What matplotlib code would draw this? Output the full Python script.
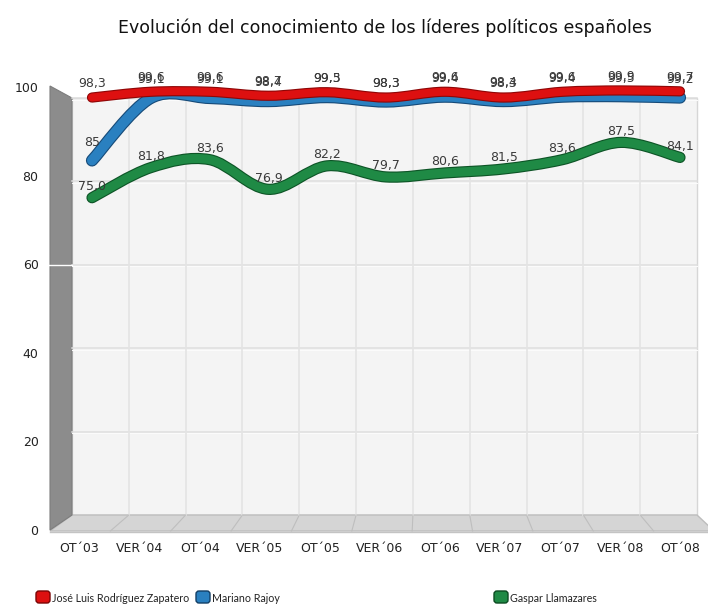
import matplotlib
matplotlib.use("Agg")
import matplotlib.pyplot as plt
import matplotlib.patheffects as pe
from matplotlib.path import Path
from matplotlib.patches import PathPatch, Polygon, FancyBboxPatch
from matplotlib import transforms
import numpy as np

plt.rcParams['font.family'] = ['DejaVu Sans']

periods = ["OT´03", "VER´04", "OT´04", "VER´05", "OT´05", "VER´06",
           "OT´06", "VER´07", "OT´07", "VER´08", "OT´08"]
zapatero = [98.3, 99.6, 99.6, 98.7, 99.5, 98.3, 99.6, 98.3, 99.6, 99.9, 99.7]
rajoy = [85, 99.1, 99.1, 98.4, 99.3, 98.3, 99.4, 98.4, 99.4, 99.5, 99.2]
llamazares = [75.0, 81.8, 83.6, 76.9, 82.2, 79.7, 80.6, 81.5, 83.6, 87.5, 84.1]
names = ["José Luis Rodríguez Zapatero", "Mariano Rajoy", "Gaspar Llamazares"]
yticks = [0, 20, 40, 60, 80, 100]

W, H = 708, 610
fig = plt.figure(figsize=(W / 100, H / 100), dpi=100)


def px(x0, y0, w, h):
    # figure-fraction box from pixel box (top-left origin)
    return [x0 / W, 1 - (y0 + h) / H, w / W, h / H]


# background: 3d box drawn in pixel space
bg = fig.add_axes([0, 0, 1, 1])
bg.set_xlim(0, W)
bg.set_ylim(H, 0)
bg.axis("off")

wall_l, wall_r, wall_t, wall_b = 72, 697, 98, 515
bg.add_patch(Polygon([(wall_l, wall_t), (wall_r, wall_t), (wall_r, wall_b), (wall_l, wall_b)],
                     closed=True, fc="#f4f4f4", ec="#d6d6d6", lw=1))
for v in yticks[1:]:
    yy = wall_b - v * (wall_b - wall_t) / 100
    bg.plot([wall_l, wall_r], [yy, yy], color="#dedede", lw=1.1)
    bg.plot([wall_l, wall_r], [yy + 1.5, yy + 1.5], color="#fbfbfb", lw=0.8)
ncat = len(periods)
step = (wall_r - wall_l) / ncat
for k in range(1, ncat):
    xx = wall_l + k * step
    bg.plot([xx, xx], [wall_t, wall_b], color="#e4e4e4", lw=1.2)

# floor
fl_front_l, fl_front_r, fl_front_y = 50, 714, 531
bg.add_patch(Polygon([(fl_front_l, fl_front_y), (wall_l, wall_b), (wall_r, wall_b),
                      (fl_front_r, fl_front_y)], closed=True, fc="#d5d5d5", ec="#bdbdbd", lw=1))
fstep = (fl_front_r - fl_front_l) / ncat
for k in range(1, ncat):
    bg.plot([wall_l + k * step, fl_front_l + k * fstep], [wall_b, fl_front_y],
            color="#bebebe", lw=0.8)
bg.plot([fl_front_l, fl_front_r], [fl_front_y + 1, fl_front_y + 1], color="#c4c4c4", lw=1)

# left wall
bg.add_patch(Polygon([(50, 86), (wall_l, wall_t), (wall_l, wall_b), (50, 530)],
                     closed=True, fc="#8c8c8c", ec="#7d7d7d", lw=0.8))
bg.plot([40, wall_l], [265, 265], color="white", lw=1)

# tick label axes
axt = fig.add_axes(px(40, 87, 660, 443))
axt.set_xlim(-40 / 60.8, 10 + 20 / 60.8)
axt.set_ylim(0, 100)
axt.patch.set_alpha(0)
for s in axt.spines.values():
    s.set_visible(False)
axt.set_xticks(range(ncat))
axt.set_xticklabels(periods, fontsize=9, color="#222222")
axt.set_yticks(yticks)
axt.set_yticklabels([str(t) for t in yticks], fontsize=9, color="#222222")
axt.tick_params(length=0, pad=9, axis="x")
axt.tick_params(length=0, pad=1, axis="y")

# lines axes
ax = fig.add_axes(px(92, 87, 588, 443))
ax.set_xlim(0, ncat - 1)
ax.set_ylim(0, 100)
ax.axis("off")


def smooth_path(xs, ys):
    pts = np.column_stack([xs, ys]).astype(float)
    ext = np.vstack([pts[0], pts, pts[-1]])
    verts = [tuple(pts[0])]
    codes = [Path.MOVETO]
    for i in range(len(pts) - 1):
        p0, p1, p2, p3 = ext[i], ext[i + 1], ext[i + 2], ext[i + 3]
        c1 = p1 + (p2 - p0) / 6
        c2 = p2 - (p3 - p1) / 6
        verts += [tuple(c1), tuple(c2), tuple(p2)]
        codes += [Path.CURVE4] * 3
    return Path(verts, codes)


def fmt(v):
    if isinstance(v, int):
        return str(v)
    return f"{v:.1f}".replace(".", ",")


series = [
    (llamazares, "#1f8a45", "#0d5426", 0, 9),
    (rajoy, "#2a80c0", "#164a78", -7, 10),
    (zapatero, "#dd1010", "#8e0606", -3, 8),
]
xs = np.arange(ncat)
for vals, col, dark, dy, lw in series:
    tr = transforms.offset_copy(ax.transData, fig=fig, x=0, y=dy, units="dots")
    patch = PathPatch(smooth_path(xs, vals), fc="none", ec=col, lw=lw * 0.72,
                      capstyle="round", joinstyle="round", transform=tr, clip_on=False)
    patch.set_path_effects([pe.Stroke(linewidth=lw * 0.72 + 1.6, foreground=dark),
                            pe.Normal()])
    ax.add_patch(patch)

for vals in [llamazares, rajoy, zapatero]:
    for i, v in enumerate(vals):
        ax.annotate(fmt(v), (i, v), xytext=(0, 8), textcoords="offset points",
                    ha="center", va="center", fontsize=9, color="#3a3a3a",
                    annotation_clip=False)

fig.text(385 / W, 1 - 28 / H, "Evolución del conocimiento de los líderes políticos españoles",
         ha="center", va="center", fontsize=12.5, color="#111111")

# legend
leg_items = [(35, "#dd1010", "#7a0505"), (195, "#2a80c0", "#123f66"), (493, "#1f8a45", "#0b4a20")]
for (x0, col, dark), name in zip(leg_items, names):
    bg.add_patch(FancyBboxPatch((x0 + 1, 591), 14, 12, boxstyle="round,pad=0,rounding_size=3",
                                fc=col, ec=dark, lw=1))
    bg.text(x0 + 17, 598, name, ha="left", va="center", color="#222222",
            family=["Lato", "DejaVu Sans"], fontsize=7.7)

fig.savefig("out.png", dpi=100, facecolor="white")
